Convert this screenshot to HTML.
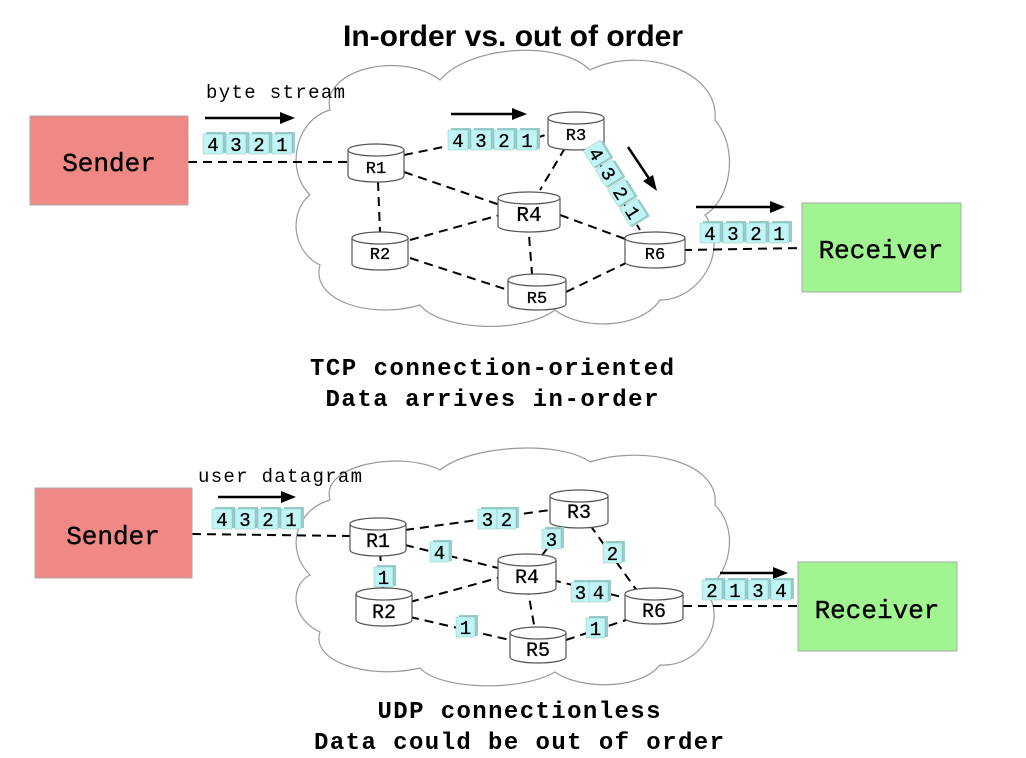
<!DOCTYPE html>
<html><head><meta charset="utf-8"><style>
html,body{margin:0;padding:0;background:#fff;}
svg{display:block}
.m{font-family:"Liberation Mono",monospace;}
.p{font-family:"Liberation Mono",monospace;font-size:19px;}
</style></head><body>
<svg width="1026" height="758" viewBox="0 0 1026 758" xmlns="http://www.w3.org/2000/svg">
<rect width="1026" height="758" fill="#fff"/>
<text x="513" y="46" text-anchor="middle" font-family="Liberation Sans,sans-serif" font-weight="bold" font-size="30">In-order vs. out of order</text>

<path d="M330,110 C320,70 400,50 440,80 C470,45 560,40 590,70 C640,45 720,70 715,120 C740,150 730,200 705,215 C730,250 700,300 660,300 C640,330 580,330 555,310 C520,335 440,330 420,305 C370,320 310,300 320,265 C290,250 290,210 310,195 C285,170 295,120 330,110 Z" fill="none" stroke="#999" stroke-width="1.2"/>
<path d="M330,500 C320,465 400,450 440,470 C470,445 560,440 590,462 C640,445 720,460 715,505 C740,530 730,575 705,590 C730,620 700,668 660,665 C640,690 580,690 555,672 C520,692 440,690 420,668 C370,680 310,662 320,632 C290,618 290,585 310,575 C285,550 295,510 330,500 Z" fill="none" stroke="#999" stroke-width="1.2"/>

<g stroke="#000" stroke-width="2" stroke-dasharray="9,6" fill="none">
<line x1="188" y1="162" x2="348" y2="162"/>
<line x1="404" y1="155" x2="448" y2="146"/>
<line x1="536" y1="138" x2="548" y2="134"/>
<line x1="404" y1="172" x2="500" y2="205"/>
<line x1="378" y1="182" x2="380" y2="232"/>
<line x1="565" y1="148" x2="540" y2="190"/>
<line x1="590" y1="148" x2="640" y2="230"/>
<line x1="410" y1="240" x2="500" y2="215"/>
<line x1="410" y1="258" x2="508" y2="290"/>
<line x1="528" y1="222" x2="532" y2="274"/>
<line x1="560" y1="215" x2="628" y2="240"/>
<line x1="566" y1="292" x2="628" y2="262"/>
<line x1="683" y1="250" x2="802" y2="248"/>
<line x1="192" y1="534" x2="350" y2="536"/>
<line x1="405" y1="530" x2="550" y2="510"/>
<line x1="405" y1="545" x2="498" y2="568"/>
<line x1="380" y1="552" x2="383" y2="592"/>
<line x1="565" y1="525" x2="540" y2="558"/>
<line x1="590" y1="525" x2="640" y2="595"/>
<line x1="410" y1="602" x2="498" y2="578"/>
<line x1="410" y1="617" x2="510" y2="640"/>
<line x1="527" y1="586" x2="535" y2="630"/>
<line x1="552" y1="580" x2="626" y2="598"/>
<line x1="566" y1="640" x2="626" y2="620"/>
<line x1="683" y1="606" x2="798" y2="606"/>
</g>

<rect x="30" y="116" width="158" height="89" fill="#f08985" stroke="#aaa"/>
<text x="109" y="171" text-anchor="middle" class="m" font-size="26" stroke="#000" stroke-width="0.4">Sender</text>
<rect x="802" y="203" width="159" height="89" fill="#a0f590" stroke="#aaa"/>
<text x="881" y="258" text-anchor="middle" class="m" font-size="26" stroke="#000" stroke-width="0.4">Receiver</text>
<rect x="35" y="488" width="157" height="90" fill="#f08985" stroke="#aaa"/>
<text x="113" y="544" text-anchor="middle" class="m" font-size="26" stroke="#000" stroke-width="0.4">Sender</text>
<rect x="798" y="562" width="159" height="89" fill="#a0f590" stroke="#aaa"/>
<text x="877" y="618" text-anchor="middle" class="m" font-size="26" stroke="#000" stroke-width="0.4">Receiver</text>

<g fill="#fff" stroke="#555" stroke-width="1.2">
<path d="M348,150 v26 a28,6 0 0 0 56,0 v-26"/><ellipse cx="376" cy="150" rx="28" ry="6"/>
<path d="M548,118 v26 a28,6 0 0 0 56,0 v-26"/><ellipse cx="576" cy="118" rx="28" ry="6"/>
<path d="M498,198 v28 a31,6 0 0 0 62,0 v-28"/><ellipse cx="529" cy="198" rx="31" ry="6"/>
<path d="M352,238 v26 a28,6 0 0 0 56,0 v-26"/><ellipse cx="380" cy="238" rx="28" ry="6"/>
<path d="M508,280 v24 a29,6 0 0 0 58,0 v-24"/><ellipse cx="537" cy="280" rx="29" ry="6"/>
<path d="M625,238 v24 a30,6 0 0 0 60,0 v-24"/><ellipse cx="655" cy="238" rx="30" ry="6"/>
<path d="M350,524 v26 a28,6 0 0 0 56,0 v-26"/><ellipse cx="378" cy="524" rx="28" ry="6"/>
<path d="M550,496 v26 a29,6 0 0 0 58,0 v-26"/><ellipse cx="579" cy="496" rx="29" ry="6"/>
<path d="M498,560 v28 a29,6 0 0 0 58,0 v-28"/><ellipse cx="527" cy="560" rx="29" ry="6"/>
<path d="M356,594 v26 a28,6 0 0 0 56,0 v-26"/><ellipse cx="384" cy="594" rx="28" ry="6"/>
<path d="M510,633 v24 a28,6 0 0 0 56,0 v-24"/><ellipse cx="538" cy="633" rx="28" ry="6"/>
<path d="M625,594 v24 a29,6 0 0 0 58,0 v-24"/><ellipse cx="654" cy="594" rx="29" ry="6"/>
</g>
<g class="m" font-size="17" text-anchor="middle" stroke="#000" stroke-width="0.3">
<text x="376" y="173">R1</text><text x="576" y="140">R3</text>
<text x="529" y="221" font-size="21">R4</text><text x="380" y="259">R2</text>
<text x="537" y="303">R5</text><text x="655" y="259">R6</text>
<text x="378" y="547" font-size="20">R1</text><text x="579" y="518" font-size="20">R3</text>
<text x="527" y="583" font-size="20">R4</text><text x="384" y="618" font-size="20">R2</text>
<text x="538" y="656" font-size="20">R5</text><text x="654" y="617" font-size="20">R6</text>
</g>

<g stroke="#000" stroke-width="2.5" fill="#000">
<line x1="205" y1="118" x2="282" y2="118"/><polygon points="295,118 280,112 280,124" stroke="none"/>
<line x1="451" y1="114" x2="515" y2="114"/><polygon points="527,114 512,108 512,120" stroke="none"/>
<line x1="628" y1="147" x2="650" y2="180"/><polygon points="657,191 643,181 653,175" stroke="none"/>
<line x1="696" y1="207" x2="772" y2="207"/><polygon points="785,207 770,201 770,213" stroke="none"/>
<line x1="218" y1="497" x2="283" y2="497"/><polygon points="296,497 281,491 281,503" stroke="none"/>
<line x1="720" y1="573" x2="775" y2="573"/><polygon points="788,573 773,567 773,579" stroke="none"/>
</g>

<text x="206" y="98" class="m" font-size="19" textLength="139">byte stream</text>
<text x="198" y="482" class="m" font-size="19" textLength="164">user datagram</text>

<g class="p" text-anchor="middle" stroke="#000" stroke-width="0.3">
<g>
<rect x="206" y="132" width="20" height="21" fill="#9cc" stroke="none"/><rect x="203" y="134" width="20" height="20" fill="#c0f4f6" stroke="#6a8"/><text x="213" y="151">4</text>
<rect x="229" y="132" width="20" height="21" fill="#9cc" stroke="none"/><rect x="226" y="134" width="20" height="20" fill="#c0f4f6" stroke="#6a8"/><text x="236" y="151">3</text>
<rect x="252" y="132" width="20" height="21" fill="#9cc" stroke="none"/><rect x="249" y="134" width="20" height="20" fill="#c0f4f6" stroke="#6a8"/><text x="259" y="151">2</text>
<rect x="275" y="132" width="20" height="21" fill="#9cc" stroke="none"/><rect x="272" y="134" width="20" height="20" fill="#c0f4f6" stroke="#6a8"/><text x="282" y="151">1</text>
</g>
<g transform="translate(245,-4)">
<rect x="206" y="132" width="20" height="21" fill="#9cc" stroke="none"/><rect x="203" y="134" width="20" height="20" fill="#c0f4f6" stroke="#6a8"/><text x="213" y="151">4</text>
<rect x="229" y="132" width="20" height="21" fill="#9cc" stroke="none"/><rect x="226" y="134" width="20" height="20" fill="#c0f4f6" stroke="#6a8"/><text x="236" y="151">3</text>
<rect x="252" y="132" width="20" height="21" fill="#9cc" stroke="none"/><rect x="249" y="134" width="20" height="20" fill="#c0f4f6" stroke="#6a8"/><text x="259" y="151">2</text>
<rect x="275" y="132" width="20" height="21" fill="#9cc" stroke="none"/><rect x="272" y="134" width="20" height="20" fill="#c0f4f6" stroke="#6a8"/><text x="282" y="151">1</text>
</g>
<g transform="translate(497,89)">
<rect x="206" y="132" width="20" height="21" fill="#9cc" stroke="none"/><rect x="203" y="134" width="20" height="20" fill="#c0f4f6" stroke="#6a8"/><text x="213" y="151">4</text>
<rect x="229" y="132" width="20" height="21" fill="#9cc" stroke="none"/><rect x="226" y="134" width="20" height="20" fill="#c0f4f6" stroke="#6a8"/><text x="236" y="151">3</text>
<rect x="252" y="132" width="20" height="21" fill="#9cc" stroke="none"/><rect x="249" y="134" width="20" height="20" fill="#c0f4f6" stroke="#6a8"/><text x="259" y="151">2</text>
<rect x="275" y="132" width="20" height="21" fill="#9cc" stroke="none"/><rect x="272" y="134" width="20" height="20" fill="#c0f4f6" stroke="#6a8"/><text x="282" y="151">1</text>
</g>
<g transform="translate(9,375)">
<rect x="206" y="132" width="20" height="21" fill="#9cc" stroke="none"/><rect x="203" y="134" width="20" height="20" fill="#c0f4f6" stroke="#6a8"/><text x="213" y="151">4</text>
<rect x="229" y="132" width="20" height="21" fill="#9cc" stroke="none"/><rect x="226" y="134" width="20" height="20" fill="#c0f4f6" stroke="#6a8"/><text x="236" y="151">3</text>
<rect x="252" y="132" width="20" height="21" fill="#9cc" stroke="none"/><rect x="249" y="134" width="20" height="20" fill="#c0f4f6" stroke="#6a8"/><text x="259" y="151">2</text>
<rect x="275" y="132" width="20" height="21" fill="#9cc" stroke="none"/><rect x="272" y="134" width="20" height="20" fill="#c0f4f6" stroke="#6a8"/><text x="282" y="151">1</text>
</g>
<g transform="translate(499,446)">
<rect x="206" y="132" width="20" height="21" fill="#9cc" stroke="none"/><rect x="203" y="134" width="20" height="20" fill="#c0f4f6" stroke="#6a8"/><text x="213" y="151">2</text>
<rect x="229" y="132" width="20" height="21" fill="#9cc" stroke="none"/><rect x="226" y="134" width="20" height="20" fill="#c0f4f6" stroke="#6a8"/><text x="236" y="151">1</text>
<rect x="252" y="132" width="20" height="21" fill="#9cc" stroke="none"/><rect x="249" y="134" width="20" height="20" fill="#c0f4f6" stroke="#6a8"/><text x="259" y="151">3</text>
<rect x="275" y="132" width="20" height="21" fill="#9cc" stroke="none"/><rect x="272" y="134" width="20" height="20" fill="#c0f4f6" stroke="#6a8"/><text x="282" y="151">4</text>
</g>
<g transform="translate(600,140) rotate(58)">
<rect x="2" y="-2" width="20" height="21" fill="#9cc" stroke="none"/><rect x="0" y="0" width="20" height="20" fill="#c0f4f6" stroke="#6a8"/><text x="10" y="17">4</text>
<rect x="25" y="-2" width="20" height="21" fill="#9cc" stroke="none"/><rect x="23" y="0" width="20" height="20" fill="#c0f4f6" stroke="#6a8"/><text x="33" y="17">3</text>
<rect x="48" y="-2" width="20" height="21" fill="#9cc" stroke="none"/><rect x="46" y="0" width="20" height="20" fill="#c0f4f6" stroke="#6a8"/><text x="56" y="17">2</text>
<rect x="71" y="-2" width="20" height="21" fill="#9cc" stroke="none"/><rect x="69" y="0" width="20" height="20" fill="#c0f4f6" stroke="#6a8"/><text x="79" y="17">1</text>
</g>
<g>
<rect x="481" y="507" width="19" height="21" fill="#9cc" stroke="none"/><rect x="478" y="509" width="19" height="20" fill="#c0f4f6" stroke="#6a8"/><text x="487.5" y="526">3</text>
<rect x="500" y="507" width="19" height="21" fill="#9cc" stroke="none"/><rect x="497" y="509" width="19" height="20" fill="#c0f4f6" stroke="#6a8"/><text x="506.5" y="526">2</text>
<rect x="433" y="540" width="19" height="21" fill="#9cc" stroke="none"/><rect x="430" y="542" width="19" height="20" fill="#c0f4f6" stroke="#6a8"/><text x="439.5" y="559">4</text>
<rect x="377" y="565" width="19" height="21" fill="#9cc" stroke="none"/><rect x="374" y="567" width="19" height="20" fill="#c0f4f6" stroke="#6a8"/><text x="383.5" y="584">1</text>
<rect x="545" y="527" width="19" height="21" fill="#9cc" stroke="none"/><rect x="542" y="529" width="19" height="20" fill="#c0f4f6" stroke="#6a8"/><text x="551.5" y="546">3</text>
<rect x="606" y="541" width="19" height="21" fill="#9cc" stroke="none"/><rect x="603" y="543" width="19" height="20" fill="#c0f4f6" stroke="#6a8"/><text x="612.5" y="560">2</text>
<rect x="574" y="580" width="19" height="21" fill="#9cc" stroke="none"/><rect x="571" y="582" width="19" height="20" fill="#c0f4f6" stroke="#6a8"/><text x="580.5" y="599">3</text>
<rect x="592" y="580" width="19" height="21" fill="#9cc" stroke="none"/><rect x="589" y="582" width="19" height="20" fill="#c0f4f6" stroke="#6a8"/><text x="598.5" y="599">4</text>
<rect x="459" y="615" width="19" height="21" fill="#9cc" stroke="none"/><rect x="456" y="617" width="19" height="20" fill="#c0f4f6" stroke="#6a8"/><text x="465.5" y="634">1</text>
<rect x="589" y="616" width="19" height="21" fill="#9cc" stroke="none"/><rect x="586" y="618" width="19" height="20" fill="#c0f4f6" stroke="#6a8"/><text x="595.5" y="635">1</text>
</g>
</g>

<g class="m" font-weight="bold" font-size="24" text-anchor="middle">
<text x="492" y="375" textLength="364">TCP connection-oriented</text>
<text x="492" y="406" textLength="333">Data arrives in-order</text>
<text x="519" y="718" textLength="283">UDP connectionless</text>
<text x="519" y="749" textLength="410">Data could be out of order</text>
</g>
</svg>
</body></html>
